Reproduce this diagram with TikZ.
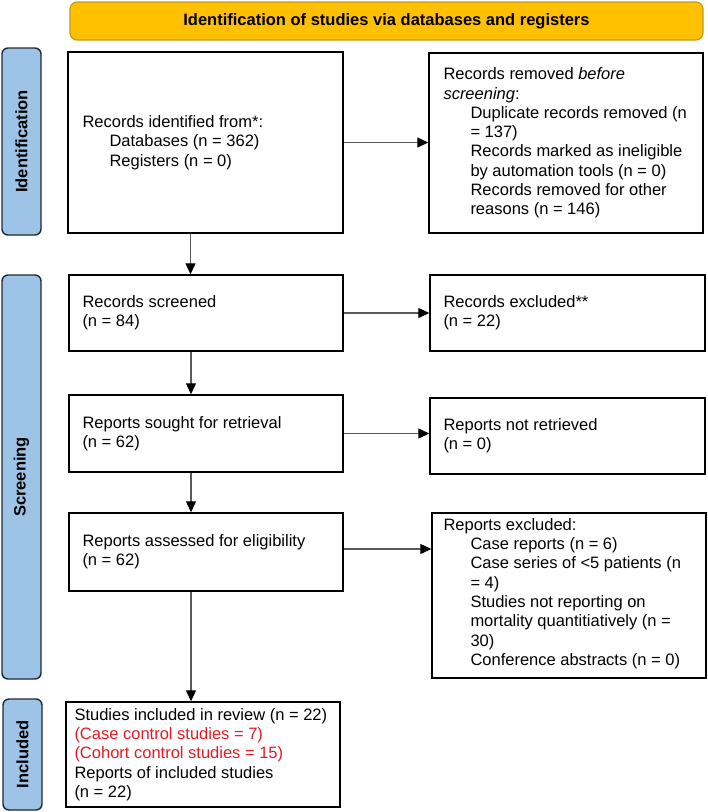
\documentclass[tikz,border=0pt]{standalone}
\usepackage{fontspec}
\setmainfont{Liberation Sans}
\usetikzlibrary{arrows.meta}
\definecolor{bannerfill}{HTML}{FFC000}
\definecolor{bannerdraw}{HTML}{C39A1E}
\definecolor{sidefill}{HTML}{9DC3E6}
\definecolor{sidedraw}{HTML}{1F2A36}
\definecolor{redtext}{HTML}{E31B23}
\tikzset{
  box/.style={draw=black, line width=1.4pt, rectangle, inner sep=0pt},
  txt/.style={anchor=west, align=left, inner sep=0pt, font=\fontsize{16.5}{19.3}\selectfont},
  side/.style={draw=sidedraw, fill=sidefill, line width=1.4pt, rounded corners=6pt,
    rotate=90, inner sep=0pt, font=\bfseries\fontsize{16.5}{19.3}\selectfont},
  banner/.style={draw=bannerdraw, fill=bannerfill, line width=1.2pt, rounded corners=7pt,
    inner sep=0pt, font=\bfseries\fontsize{16.5}{19.3}\selectfont},
  arr/.style={draw=black!65, line width=1.1pt, -{Triangle[length=11pt,width=10pt,color=black]}}
}
\newcommand{\ind}{\hspace*{27pt}}
\begin{document}
\begin{tikzpicture}[x=1pt,y=-1pt]
\useasboundingbox (0,0) rectangle (708,812);

% banner
\node[banner, minimum width=633pt, minimum height=38pt] (ban) at (386.5,21) {Identification of studies via databases and registers};

% side labels
\node[side, minimum width=187pt, minimum height=39pt] (sid1) at (21.5,141.5) {Identification};
\node[side, minimum width=404pt, minimum height=39pt] (sid2) at (21.5,477) {Screening};
\node[side, minimum width=111pt, minimum height=39pt] (sid3) at (22.5,754.5) {Included};

% boxes
\node[box, minimum width=275pt, minimum height=181pt] (b1) at (205.5,142.5) {};
\node[box, minimum width=274pt, minimum height=180pt] (r1) at (566,143) {};
\node[box, minimum width=274pt, minimum height=76pt] (b2) at (206,313) {};
\node[box, minimum width=275pt, minimum height=76pt] (r2) at (567.5,313) {};
\node[box, minimum width=274pt, minimum height=77pt] (b3) at (206,433.5) {};
\node[box, minimum width=275pt, minimum height=76pt] (r3) at (567.5,436) {};
\node[box, minimum width=274pt, minimum height=78pt] (b4) at (206,552) {};
\node[box, minimum width=274pt, minimum height=165pt] (r4) at (569,595.5) {};
\node[box, minimum width=274pt, minimum height=105pt] (b5) at (203,754.5) {};

% texts
\node[txt] (t1) at ([xshift=15pt]b1.west) {Records identified from*:\\\ind Databases (n = 362)\\\ind Registers (n = 0)};
\node[txt] (tr1) at ([xshift=15pt,yshift=0pt]r1.west) {Records removed \textit{before}\\\textit{screening}:\\\ind Duplicate records removed (n\\\ind = 137)\\\ind Records marked as ineligible\\\ind by automation tools (n = 0)\\\ind Records removed for other\\\ind reasons (n = 146)};
\node[txt] (t2) at ([xshift=14pt]b2.west) {Records screened\\(n = 84)};
\node[txt] (tr2) at ([xshift=14pt]r2.west) {Records excluded**\\(n = 22)};
\node[txt] (t3) at ([xshift=14pt]b3.west) {Reports sought for retrieval\\(n = 62)};
\node[txt] (tr3) at ([xshift=14pt]r3.west) {Reports not retrieved\\(n = 0)};
\node[txt] (t4) at ([xshift=14pt]b4.west) {Reports assessed for eligibility\\(n = 62)};
\node[txt] (tr4) at ([xshift=12pt,yshift=2pt]r4.west) {Reports excluded:\\\ind Case reports (n = 6)\\\ind Case series of <5 patients (n\\\ind = 4)\\\ind Studies not reporting on\\\ind mortality quantitiatively (n =\\\ind 30)\\\ind Conference abstracts (n = 0)};
\node[txt] (t5) at ([xshift=9pt]b5.west) {Studies included in review (n = 22)\\\textcolor{redtext}{(Case control studies = 7)}\\\textcolor{redtext}{(Cohort control studies = 15)}\\Reports of included studies\\(n = 22)};

% horizontal arrows
\draw[arr] (b1.east) -- (b1.east -| r1.west);
\draw[arr] (b2.east) -- (b2.east -| r2.west);
\draw[arr] (b3.east) -- (b3.east -| r3.west);
\draw[arr] ([yshift=3pt]b4.east) -- ([yshift=3pt]b4.east -| r4.west);

% vertical arrows
\draw[arr] ([xshift=-15pt]b1.south) -- ([xshift=-15pt]b1.south |- b2.north);
\draw[arr] ([xshift=-15pt]b2.south) -- ([xshift=-15pt]b2.south |- b3.north);
\draw[arr] ([xshift=-15pt]b3.south) -- ([xshift=-15pt]b3.south |- b4.north);
\draw[arr] ([xshift=-15pt]b4.south) -- ([xshift=-15pt]b4.south |- b5.north);
\end{tikzpicture}
\end{document}
